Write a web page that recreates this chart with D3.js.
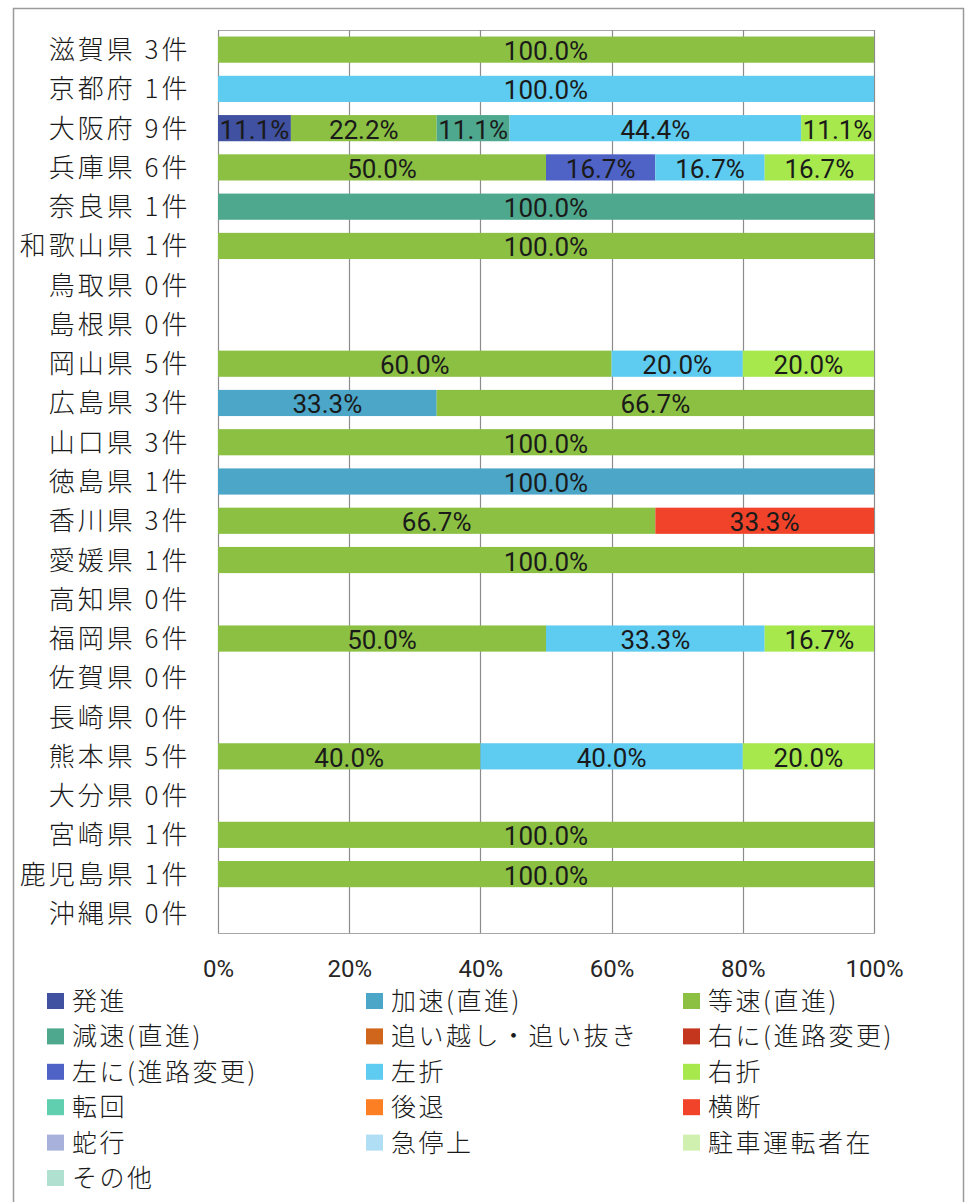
<!DOCTYPE html>
<html lang="ja">
<head>
<meta charset="utf-8">
<script src="https://cdn.jsdelivr.net/npm/d3@7"></script>
<style>
  html, body { margin: 0; padding: 0; background: #fff; }
  svg { display: block; }
</style>
</head>
<body>
<svg id="chart" width="966" height="1202"></svg>
<script>
// Prefectures (top to bottom) and their number of cases
const prefectures = ["滋賀県","京都府","大阪府","兵庫県","奈良県","和歌山県","鳥取県","島根県","岡山県","広島県","山口県","徳島県","香川県","愛媛県","高知県","福岡県","佐賀県","長崎県","熊本県","大分県","宮崎県","鹿児島県","沖縄県"];
const caseCounts  = [3,1,9,6,1,1,0,0,5,3,3,1,3,1,0,6,0,0,5,0,1,1,0];

// Behaviour categories (stack order = legend order)
const behaviours = ["発進","加速(直進)","等速(直進)","減速(直進)","追い越し・追い抜き","右に(進路変更)","左に(進路変更)","左折","右折","転回","後退","横断","蛇行","急停上","駐車運転者在","その他"];
const behaviourColors = ["#3f51a0","#4ba6c8","#8bc043","#4ea88e","#d0661c","#c4361e","#4f63c6","#5ecbf0","#a7e84d","#5fcfb0","#fd7f24","#f0432a","#a8b0dc","#b0def5","#d0f0b0","#b0e0d0"];

// Case counts per behaviour, one value per prefecture
const hasshin     = [0,0,1,0,0,0,0,0,0,0,0,0,0,0,0,0,0,0,0,0,0,0,0];
const kasoku      = [0,0,0,0,0,0,0,0,0,1,0,1,0,0,0,0,0,0,0,0,0,0,0];
const tousoku     = [3,0,2,3,0,1,0,0,3,2,3,0,2,1,0,3,0,0,2,0,1,1,0];
const gensoku     = [0,0,1,0,1,0,0,0,0,0,0,0,0,0,0,0,0,0,0,0,0,0,0];
const oikoshi     = [0,0,0,0,0,0,0,0,0,0,0,0,0,0,0,0,0,0,0,0,0,0,0];
const migiShinro  = [0,0,0,0,0,0,0,0,0,0,0,0,0,0,0,0,0,0,0,0,0,0,0];
const hidariShinro= [0,0,0,1,0,0,0,0,0,0,0,0,0,0,0,0,0,0,0,0,0,0,0];
const sasetsu     = [0,1,4,1,0,0,0,0,1,0,0,0,0,0,0,2,0,0,2,0,0,0,0];
const usetsu      = [0,0,1,1,0,0,0,0,1,0,0,0,0,0,0,1,0,0,1,0,0,0,0];
const tenkai      = [0,0,0,0,0,0,0,0,0,0,0,0,0,0,0,0,0,0,0,0,0,0,0];
const koutai      = [0,0,0,0,0,0,0,0,0,0,0,0,0,0,0,0,0,0,0,0,0,0,0];
const oudan       = [0,0,0,0,0,0,0,0,0,0,0,0,1,0,0,0,0,0,0,0,0,0,0];
const dakou       = [0,0,0,0,0,0,0,0,0,0,0,0,0,0,0,0,0,0,0,0,0,0,0];
const kyuuteishi  = [0,0,0,0,0,0,0,0,0,0,0,0,0,0,0,0,0,0,0,0,0,0,0];
const chuusha     = [0,0,0,0,0,0,0,0,0,0,0,0,0,0,0,0,0,0,0,0,0,0,0];
const sonota      = [0,0,0,0,0,0,0,0,0,0,0,0,0,0,0,0,0,0,0,0,0,0,0];

const seriesValues = [hasshin,kasoku,tousoku,gensoku,oikoshi,migiShinro,hidariShinro,sasetsu,usetsu,tenkai,koutai,oudan,dakou,kyuuteishi,chuusha,sonota];

const xTicks = [0, 0.2, 0.4, 0.6, 0.8, 1];

// Table for d3.stack: one row per prefecture
const rows = prefectures.map((p, i) => {
  const r = { pref: p, total: caseCounts[i] };
  behaviours.forEach((b, k) => { r[b] = seriesValues[k][i]; });
  return r;
});

const svg = d3.select("#chart");
svg.append("rect").attr("width", 966).attr("height", 1202).attr("fill", "#fff");

// Outer chart frame
svg.append("rect")
  .attr("x", 13.5).attr("y", 8.5).attr("width", 950).attr("height", 1210)
  .attr("fill", "none").attr("stroke", "#9a9a9a").attr("stroke-width", 1.5);

const plot = { left: 218, right: 874, top: 30, bottom: 933 };

const x = d3.scaleLinear().domain([0, 1]).range([plot.left, plot.right]);
const y = d3.scaleBand().domain(prefectures)
  .range([plot.top, plot.bottom]).paddingInner(1/3).paddingOuter(1/6);

const labelFont = "Roboto, 'Noto Sans', sans-serif";
const cjkFont = "'Noto Sans CJK JP', 'Noto Sans', sans-serif";

// Plot area border and vertical gridlines
svg.append("rect")
  .attr("x", plot.left + 0.5).attr("y", plot.top + 0.5)
  .attr("width", plot.right - plot.left).attr("height", plot.bottom - plot.top)
  .attr("fill", "none").attr("stroke", "#a6a6a6").attr("stroke-width", 1);

svg.append("g")
  .selectAll("line").data(xTicks).join("line")
  .attr("x1", d => Math.round(x(d)) + 0.5).attr("x2", d => Math.round(x(d)) + 0.5)
  .attr("y1", plot.top).attr("y2", plot.bottom)
  .attr("stroke", "#8c8c8c").attr("stroke-width", 1.2);

// Stacked, normalised bars
const stack = d3.stack().keys(behaviours).offset(d3.stackOffsetExpand);
const layers = stack(rows);

const barG = svg.append("g");
layers.forEach((layer, k) => {
  const segs = layer.filter(d => d.data.total > 0 && d[1] - d[0] > 0);
  barG.selectAll(null).data(segs).join("rect")
    .attr("x", d => x(d[0]))
    .attr("width", d => x(d[1]) - x(d[0]))
    .attr("y", d => y(d.data.pref))
    .attr("height", y.bandwidth())
    .attr("fill", behaviourColors[k]);
});

// Percentage labels centred in each segment
const pct = d3.format(".1%");
const labelG = svg.append("g")
  .attr("font-family", labelFont).attr("font-size", 26).attr("fill", "#1a1a1a")
  .attr("text-anchor", "middle");
layers.forEach((layer, k) => {
  const segs = layer.filter(d => d.data.total > 0 && d[1] - d[0] > 0);
  labelG.selectAll(null).data(segs).join("text")
    .attr("x", d => x((d[0] + d[1]) / 2))
    .attr("y", d => y(d.data.pref) + y.bandwidth() / 2 + 10.5)
    .text(d => pct(d.data[behaviours[k]] / d.data.total));
});

// Category axis labels
svg.append("g")
  .attr("font-family", cjkFont).attr("font-size", 26).attr("font-weight", 300).attr("fill", "#1a1a1a")
  .attr("text-anchor", "end").attr("letter-spacing", "3px")
  .selectAll("text").data(rows).join("text")
  .attr("x", 190.5)
  .attr("y", d => y(d.pref) + y.bandwidth() / 2 + 9.5)
  .text(d => `${d.pref} ${d.total}件`);

// Percent axis along the bottom
const xAxis = d3.axisBottom(x).tickValues(xTicks).tickFormat(d3.format(".0%")).tickSize(0).tickPadding(0);
const axG = svg.append("g").attr("transform", `translate(0, ${plot.bottom})`).call(xAxis);
axG.select(".domain").remove();
axG.selectAll("text")
  .attr("font-family", labelFont).attr("font-size", 24).attr("fill", "#262626")
  .attr("dy", 0).attr("y", 44);

// Legend, three columns
const legendCols = [47, 366, 683];
const legendTop = 1001;
const legendStep = 35.4;
const legG = svg.append("g").attr("font-family", cjkFont).attr("font-size", 25).attr("font-weight", 300).attr("fill", "#1a1a1a");
const items = legG.selectAll("g").data(behaviours).join("g")
  .attr("transform", (d, i) => `translate(${legendCols[i % 3]}, ${legendTop + Math.floor(i / 3) * legendStep})`);
items.append("rect")
  .attr("x", 0).attr("y", -8).attr("width", 17).attr("height", 16)
  .attr("fill", (d, i) => behaviourColors[i]);
items.append("text")
  .attr("x", 25).attr("y", 9).attr("letter-spacing", "2.5px")
  .text(d => d);
</script>
</body>
</html>
